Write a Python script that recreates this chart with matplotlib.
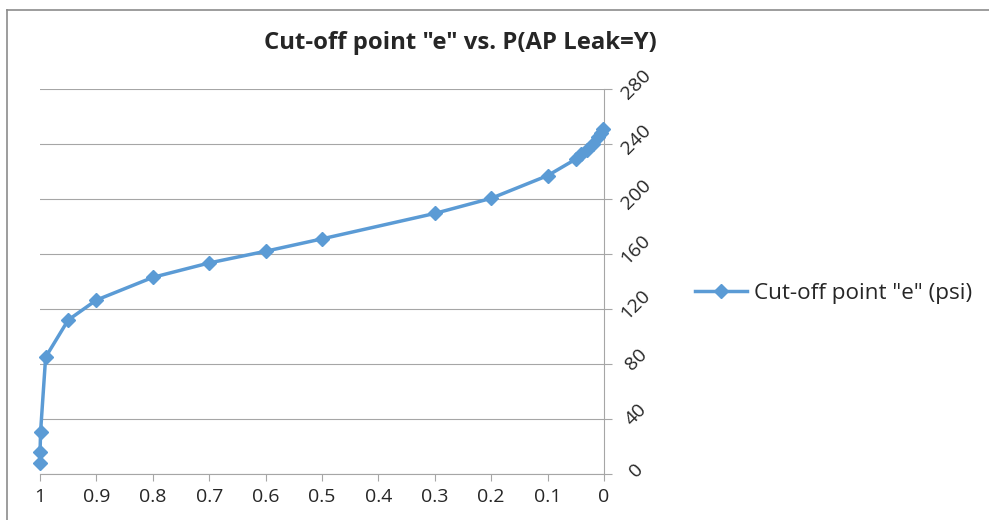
import matplotlib.pyplot as plt
from matplotlib.lines import Line2D
from matplotlib.transforms import ScaledTranslation

# probability P(AP Leak=Y) and cut-off point "e" (psi)
prob = [1.0, 0.9999, 0.999, 0.99, 0.95, 0.9, 0.8, 0.7, 0.6, 0.5, 0.3, 0.2,
        0.1, 0.05, 0.04, 0.03, 0.02, 0.01, 0.005, 0.001]
cutoff = [8, 16, 30.5, 85, 112, 126.5, 143, 153.5, 162, 171, 189.5, 200.5,
          217, 229, 233, 236, 240, 245, 248, 251]
x_ticks = [1, 0.9, 0.8, 0.7, 0.6, 0.5, 0.4, 0.3, 0.2, 0.1, 0]
x_tick_labels = ["1", "0.9", "0.8", "0.7", "0.6", "0.5", "0.4", "0.3", "0.2", "0.1", "0"]
y_ticks = [0, 40, 80, 120, 160, 200, 240, 280]

title = 'Cut-off point "e" vs. P(AP Leak=Y)'
series_name = 'Cut-off point "e" (psi)'

plt.rcParams['font.family'] = ['Open Sans', 'DejaVu Sans']
blue = '#5B9BD5'
grid_col = '#A6A6A6'
txt_col = '#262626'

W, H = 989, 520
fig = plt.figure(figsize=(W / 100, H / 100), dpi=100)
ax = fig.add_axes([40 / W, 1 - 474 / H, (604 - 40) / W, (474 - 89) / H])

ax.plot(prob, cutoff, color=blue, lw=2.5, marker='D', markersize=7.5,
        label=series_name, zorder=3, clip_on=False)

ax.set_xlim(1, 0)
ax.set_ylim(0, 280)
ax.set_xticks(x_ticks)
ax.set_xticklabels(x_tick_labels, fontsize=14, color=txt_col)
ax.set_yticks(y_ticks)
ax.yaxis.tick_right()
ax.tick_params(axis='y', which='both', right=True, left=False, labelright=False,
               length=6, width=0.8, color=grid_col)
ax.tick_params(axis='x', length=5, width=0.8, color=grid_col, pad=5)
ax.grid(axis='y', color=grid_col, lw=0.8)
ax.set_axisbelow(True)

for side in ['top', 'left']:
    ax.spines[side].set_visible(False)
for side in ['bottom', 'right']:
    ax.spines[side].set_color(grid_col)
    ax.spines[side].set_linewidth(0.8)

# rotated y labels on the right side
off = ScaledTranslation(0.32, 0.04, fig.dpi_scale_trans)
for v in y_ticks:
    ax.text(1, v, str(v), transform=ax.get_yaxis_transform() + off,
            rotation=45, rotation_mode='anchor', ha='center', va='center',
            fontsize=14, color=txt_col)

fig.text(460 / W, 1 - 43 / H, title, ha='center', va='center',
         fontsize=17.2, fontweight='bold', color=txt_col)

fig.legend(loc='center left', bbox_to_anchor=(695 / W, 1 - 293 / H),
           frameon=False, fontsize=16.2, handlelength=2.3, handletextpad=0.3,
           borderpad=0, borderaxespad=0, labelcolor=txt_col)

# chart area border (cropped)
fig.add_artist(Line2D([7 / W, 7 / W], [0, 1 - 10 / H], color='#8C8C8C', lw=1.2))
fig.add_artist(Line2D([7 / W, 1], [1 - 10 / H, 1 - 10 / H], color='#8C8C8C', lw=1.2))

fig.savefig('out.png', dpi=100)
